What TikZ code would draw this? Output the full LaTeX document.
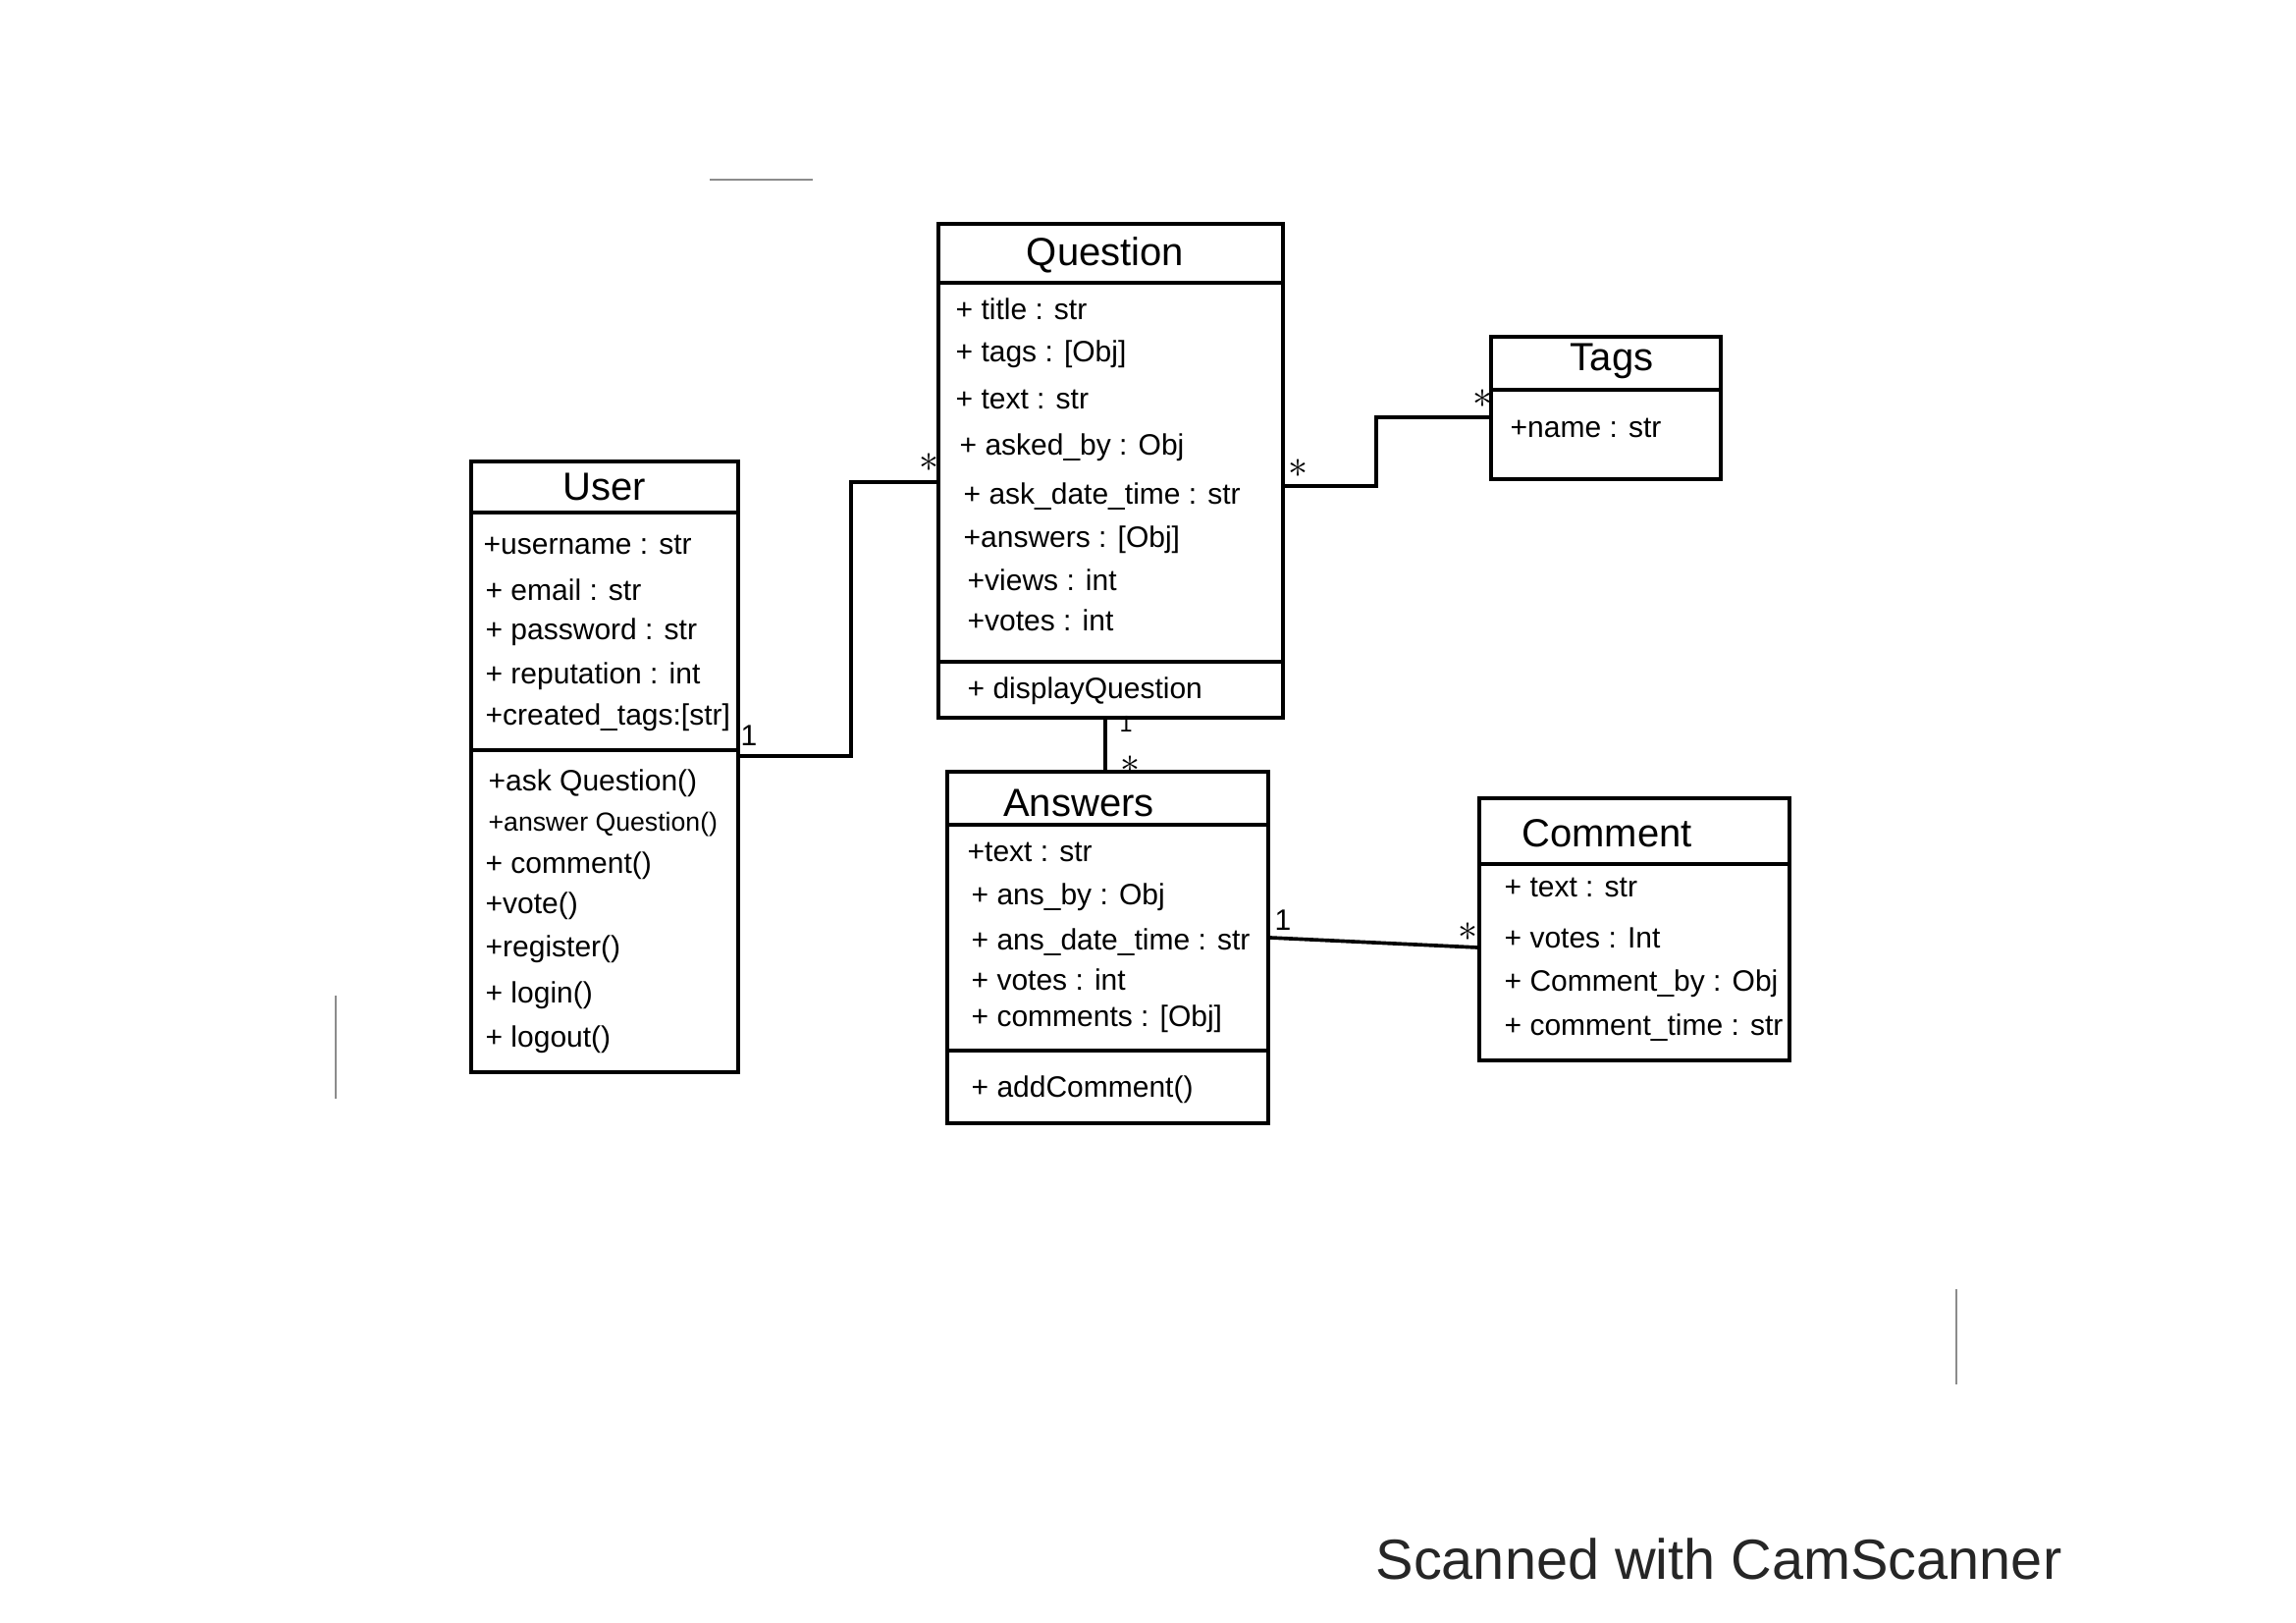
\documentclass[tikz,border=0pt]{standalone}
\usepackage{fontspec}
\setmainfont{Liberation Sans}
\tikzset{
  classbox/.style={rectangle, draw=black, line width=1.1pt, fill=none},
  classname/.style={font=\large},
  member/.style={anchor=west, font=\small},
  mult/.style={font=\small},
  link/.style={draw=black, line width=1.1pt},
  scanmark/.style={draw=black!45, line width=0.6pt},
}

\begin{document}
\begin{tikzpicture}
[x=0.3pt, y=-0.3pt, every node/.style={inner sep=0pt}]
\useasboundingbox (0,0) rectangle (2339,1653);
\fill [white] (0,0) rectangle (2339,1653);
% classes
\node (user) [classbox, minimum width=81.6pt, minimum height=186.6pt] at (616, 781) {};
\node (question) [classbox, minimum width=105.3pt, minimum height=150.9pt] at (1131.5, 479.5) {};
\node (tags) [classbox, minimum width=70.2pt, minimum height=43.5pt] at (1636, 415.5) {};
\node (answers) [classbox, minimum width=98.1pt, minimum height=107.4pt] at (1128.5, 965) {};
\node (comment) [classbox, minimum width=94.8pt, minimum height=80.1pt] at (1665, 946.5) {};
% compartments
\draw [link] (user.west |- 0,522) -- (user.east |- 0,522);
\draw [link] (user.west |- 0,764) -- (user.east |- 0,764);
\draw [link] (question.west |- 0,288) -- (question.east |- 0,288);
\draw [link] (question.west |- 0,674) -- (question.east |- 0,674);
\draw [link] (tags.west |- 0,397) -- (tags.east |- 0,397);
\draw [link] (answers.west |- 0,840) -- (answers.east |- 0,840);
\draw [link] (answers.west |- 0,1070) -- (answers.east |- 0,1070);
\draw [link] (comment.west |- 0,880) -- (comment.east |- 0,880);
% names
\node (user title) [classname] at (616, 496) {User};
\node (question title) [classname] at (1126, 260) {Question};
\node (tags title) [classname] at (1642, 368) {Tags};
\node (answers title) [classname] at (1099, 818) {Answers};
\node (comment title) [classname] at (1637, 849) {Comment};
% User
\node (u1) [member] at (492, 555) {+username : str};
\node (u2) [member] at (494, 601) {+ email : str};
\node (u3) [member] at (494, 644) {+ password : str};
\node (u4) [member] at (494, 689) {+ reputation : int};
\node (u5) [member] at (494, 731) {+created\_tags:[str]};
\node (u6) [member] at (497, 798) {+ask Question()};
\node (u7) [member, font=\footnotesize] at (497, 840) {+answer Question()};
\node (u8) [member] at (494, 882) {+ comment()};
\node (u9) [member] at (494, 923) {+vote()};
\node (u10) [member] at (494, 967) {+register()};
\node (u11) [member] at (494, 1014) {+ login()};
\node (u12) [member] at (494, 1059) {+ logout()};
% Question
\node (q1) [member] at (973, 315) {+ title : str};
\node (q2) [member] at (973, 361) {+ tags : [Obj]};
\node (q3) [member] at (973, 407) {+ text : str};
\node (q4) [member] at (977, 456) {+ asked\_by : Obj};
\node (q5) [member] at (981, 506) {+ ask\_date\_time : str};
\node (q6) [member] at (981, 550) {+answers : [Obj]};
\node (q7) [member] at (985, 591) {+views : int};
\node (q8) [member] at (985, 632) {+votes : int};
\node (q9) [member] at (985, 704) {+ displayQuestion};
% Tags
\node (t1) [member] at (1538, 436) {+name : str};
% Answers
\node (a1) [member] at (985, 868) {+text : str};
\node (a2) [member] at (989, 914) {+ ans\_by : Obj};
\node (a3) [member] at (989, 960) {+ ans\_date\_time : str};
\node (a4) [member] at (989, 998) {+ votes : int};
\node (a5) [member] at (989, 1038) {+ comments : [Obj]};
\node (a6) [member] at (989, 1110) {+ addComment()};
% Comment
\node (c1) [member] at (1532, 904) {+ text : str};
\node (c2) [member] at (1532, 955) {+ votes : Int};
\node (c3) [member] at (1532, 1002) {+ Comment\_by : Obj};
\node (c4) [member] at (1532, 1047) {+ comment\_time : str};
% associations
\draw [link] (user.east |- 0,770) -| (867, 491) -- (question.west |- 0,491);
\draw [link] (question.east |- 0,495) -| (1402, 425) -- (tags.west |- 0,425);
\draw [link] (question.south -| 1126,0) -- (answers.north -| 1126,0);
\draw [link] (answers.east |- 0,955) -- (comment.west |- 0,965);
\node (m1) [mult] at (763, 749) {1};
\node (m2) [mult] at (946, 471) {\large $\ast$};
\node (m3) [mult] at (1322, 477) {\large $\ast$};
\node (m4) [mult] at (1510, 406) {\large $\ast$};
\node (m5) [mult, font=\scriptsize] at (1147, 737) {1};
\node (m6) [mult] at (1151, 779) {\large $\ast$};
\node (m7) [mult] at (1307, 937) {1};
\node (m8) [mult] at (1495, 949) {\large $\ast$};
% scan marks
\draw [scanmark] (723, 183) -- (828, 183);
\draw [scanmark] (342, 1014) -- (342, 1119);
\draw [scanmark] (1993, 1313) -- (1993, 1410);
\node (scan) [font=\fontsize{17.3}{21}\selectfont, text=black!85] at (1751, 1588) {Scanned with CamScanner};
\end{tikzpicture}
\end{document}
